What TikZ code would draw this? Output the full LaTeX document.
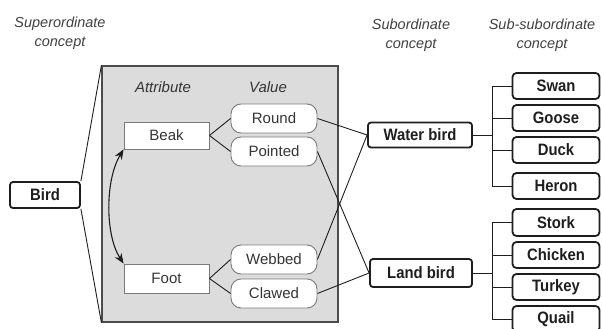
\documentclass[tikz,border=0pt]{standalone}
\usepackage{fontspec}
\setmainfont{Liberation Sans}
\newfontfamily\narrowsans[FakeStretch=0.9]{Liberation Sans}
\usetikzlibrary{arrows.meta}
\definecolor{panelgray}{HTML}{DCDCDC}
\definecolor{ink}{HTML}{1E1E1E}
\definecolor{softline}{HTML}{7A7A7A}
\tikzset{
  boldbox/.style={draw=ink, line width=1.8pt, rounded corners=3pt, fill=white,
    inner sep=0pt, font=\narrowsans\bfseries\fontsize{16.5}{18}\selectfont, text=ink},
  attrbox/.style={draw=softline, line width=0.9pt, fill=white, inner sep=0pt,
    minimum width=85pt, font=\fontsize{15}{17}\selectfont, text=ink!90},
  valbox/.style={draw=softline, line width=0.9pt, fill=white, inner sep=0pt,
    rounded corners=10pt, minimum width=86pt, minimum height=29pt,
    font=\fontsize{15}{17}\selectfont, text=ink!90},
  leafbox/.style={boldbox, minimum width=87pt, minimum height=26pt, rounded corners=4pt},
  heading/.style={align=center, font=\itshape\fontsize{14.5}{19}\selectfont, text=ink!85},
  link/.style={draw=ink, line width=0.9pt},
}
\begin{document}
\begin{tikzpicture}[x=1pt, y=-1pt]
\useasboundingbox (0,0) rectangle (602,329);
\clip (0,0) rectangle (602,329);
% headings
\node[heading] (hsup) at (60,33) {Superordinate\\concept};
\node[heading] (hsub) at (411,35) {Subordinate\\concept};
\node[heading] (hsubsub) at (542,35) {Sub-subordinate\\concept};
% panel
\node[draw=ink!80, line width=1.2pt, fill=panelgray, minimum width=236pt, minimum height=256pt, inner sep=0pt] (panel) at (220,194) {};
\node[font=\itshape\fontsize{15}{17}\selectfont, text=ink!90] (hattr) at (163,87) {Attribute};
\node[font=\itshape\fontsize{15}{17}\selectfont, text=ink!90] (hval) at (268,87) {Value};
% bird
\node[boldbox, minimum width=70pt, minimum height=26pt] (bird) at (45,195) {Bird};
\draw[link] (bird.north east) -- (panel.north west);
\draw[link] (bird.south east) -- (panel.south west);
% attributes
\node[attrbox, minimum height=27pt] (beak) at (166.5,135.5) {Beak};
\node[attrbox, minimum height=29pt] (foot) at (166.5,278.5) {Foot};
% values
\node[valbox] (round) at (274,118.5) {Round};
\node[valbox] (pointed) at (274,151.5) {Pointed};
\node[valbox] (webbed) at (274,259.5) {Webbed};
\node[valbox] (clawed) at (274,293.5) {Clawed};
\draw[link] (beak.east) -- (round.west);
\draw[link] (beak.east) -- (pointed.west);
\draw[link] (foot.east) -- (webbed.west);
\draw[link] (foot.east) -- (clawed.west);
% attribute relation
\draw[link, line width=1.1pt, {Stealth[length=10pt,width=8pt]}-{Stealth[length=10pt,width=8pt]}]
  (beak.south west) .. controls (105,180) and (105,235) .. (foot.north west);
% subordinate
\node[boldbox, minimum width=104pt, minimum height=25pt] (water) at (420,135) {Water bird};
\node[boldbox, minimum width=102pt, minimum height=28pt] (land) at (421,273) {Land bird};
\draw[link] (round.east) -- (water.west);
\draw[link] (webbed.east) -- (water.west);
\draw[link] (pointed.east) -- (land.west);
\draw[link] (clawed.east) -- (land.west);
% leaves
\node[leafbox] (swan) at (556,86) {Swan};
\node[leafbox] (goose) at (556,118) {Goose};
\node[leafbox] (duck) at (556,150) {Duck};
\node[leafbox] (heron) at (556,186) {Heron};
\node[leafbox, minimum height=27pt] (stork) at (556,222.5) {Stork};
\node[leafbox] (chicken) at (556,255) {Chicken};
\node[leafbox] (turkey) at (556,287) {Turkey};
\node[leafbox] (quail) at (556,319) {Quail};
\draw[link] (water.east) -- ++(20,0) coordinate (wj);
\draw[link] (land.east) -- ++(20,0) coordinate (lj);
\foreach \n in {swan,goose,duck,heron} \draw[link] (wj) |- (\n.west);
\foreach \n in {stork,chicken,turkey,quail} \draw[link] (lj) |- (\n.west);
\end{tikzpicture}
\end{document}
